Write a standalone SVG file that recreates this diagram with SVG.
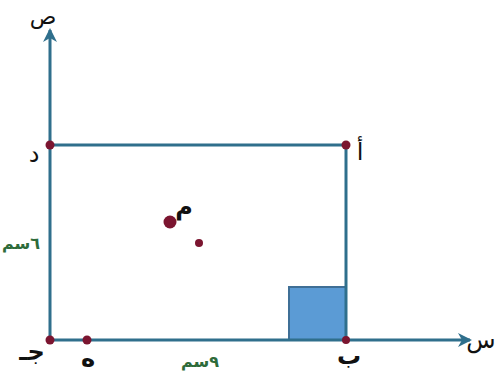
<svg xmlns="http://www.w3.org/2000/svg" width="495" height="383" viewBox="0 0 495 383">
<style>
.ln{stroke:#2f6f8c;stroke-width:3;fill:none}
.pt{fill:#7b1530}
.lb{font-family:"DejaVu Sans","Noto Sans",sans-serif;font-size:24px;fill:#111;text-anchor:middle}
.bd{font-weight:bold}
.gr{font-family:"DejaVu Sans","Noto Sans",sans-serif;font-size:16px;font-weight:bold;fill:#2e6b3a;text-anchor:middle}
</style>
<defs>
<marker id="ar" viewBox="0 0 14 14" refX="12" refY="7" markerWidth="14" markerHeight="14" markerUnits="userSpaceOnUse" orient="auto">
<path d="M0,0 L14,7 L0,14 L4,7 Z" fill="#2f6f8c"/>
</marker>
</defs>
<rect width="495" height="383" fill="#fff"/>
<g id="square"><rect x="289" y="287" width="57" height="53" fill="#5b9bd5" stroke="#3f6f96" stroke-width="2"/></g>
<g id="connectors">
<line class="ln" x1="50" y1="340" x2="50" y2="30" marker-end="url(#ar)"/>
<line class="ln" x1="50" y1="340" x2="470" y2="340" marker-end="url(#ar)"/>
<line class="ln" x1="50" y1="145" x2="346" y2="145"/>
<line class="ln" x1="346" y1="145" x2="346" y2="340"/>
</g>
<g id="A"><circle class="pt" cx="346" cy="145" r="4.5"/><text class="lb" x="360" y="160">أ</text></g>
<g id="B"><circle class="pt" cx="346" cy="340" r="4"/><text class="lb bd" x="349" y="364">ب</text></g>
<g id="C"><circle class="pt" cx="50" cy="340" r="4.5"/><text class="lb bd" x="32" y="360">جـ</text></g>
<g id="D"><circle class="pt" cx="50" cy="145" r="4.5"/><text class="lb" x="34" y="162">د</text></g>
<g id="H"><circle class="pt" cx="87" cy="340" r="4.5"/><text class="lb bd" x="88" y="366">ه</text></g>
<g id="M"><circle class="pt" cx="170" cy="222" r="6.5"/><text class="lb bd" x="184" y="215">م</text></g>
<g id="P"><circle class="pt" cx="199" cy="243" r="4"/></g>
<g id="Y"><text class="lb" x="43" y="24" style="font-size:22px">ص</text></g>
<g id="X"><text class="lb" x="481" y="348">س</text></g>
<g id="len6"><text class="gr" x="21" y="249">٦سم</text></g>
<g id="len9"><text class="gr" x="200" y="367">٩سم</text></g>
</svg>
